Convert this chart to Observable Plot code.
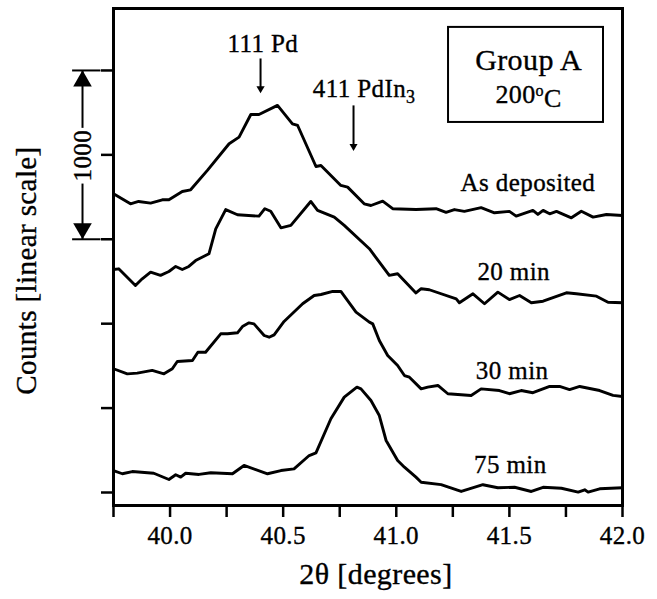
<!DOCTYPE html>
<html>
<head>
<meta charset="utf-8">
<script src="https://cdn.jsdelivr.net/npm/d3@7"></script>
<script src="https://cdn.jsdelivr.net/npm/@observablehq/plot@0.6"></script>
<style>
html, body { margin: 0; padding: 0; background: #fff; }
#chart svg text { letter-spacing: 0.4px; stroke: #000; stroke-width: 0.35px; }
</style>
</head>
<body>
<div id="chart"></div>
<script>
// ---- data (2θ in degrees, counts on linear scale incl. stacking offset) ----
const seriesNames = ["As deposited", "20 min", "30 min", "75 min"];

const asDeposited = [
  [39.75,1770],[39.825,1710],[39.861,1724],[39.914,1714],[39.966,1734],[39.995,1734],
  [40.054,1783],[40.091,1793],[40.165,1908],[40.261,2066],[40.305,2105],[40.357,2239],
  [40.393,2239],[40.475,2293],[40.541,2184],[40.564,2174],[40.645,1931],[40.667,1937],
  [40.755,1819],[40.785,1809],[40.858,1710],[40.888,1700],[40.94,1726],[40.984,1681],
  [41.087,1676],[41.176,1681],[41.22,1660],[41.257,1676],[41.301,1665],[41.375,1687],
  [41.434,1657],[41.5,1665],[41.53,1637],[41.604,1671],[41.626,1647],[41.649,1671],
  [41.678,1651],[41.708,1665],[41.774,1627],[41.818,1666],[41.87,1631],[41.929,1647],
  [42.0,1641]
];

const twentyMin = [
  [39.75,1321],[39.773,1325],[39.847,1226],[39.877,1266],[39.914,1305],[39.958,1286],
  [39.995,1309],[40.025,1339],[40.054,1321],[40.083,1339],[40.113,1374],[40.172,1414],
  [40.202,1562],[40.246,1676],[40.298,1645],[40.393,1637],[40.419,1681],[40.445,1666],
  [40.49,1568],[40.534,1582],[40.622,1724],[40.652,1671],[40.726,1631],[40.77,1582],
  [40.881,1444],[40.969,1286],[41.006,1296],[41.087,1182],[41.11,1207],[41.146,1201],
  [41.265,1147],[41.279,1124],[41.339,1177],[41.39,1118],[41.449,1187],[41.5,1143],
  [41.545,1167],[41.597,1124],[41.649,1133],[41.752,1183],[41.796,1177],[41.885,1163],
  [41.936,1127],[42.0,1124]
];

const thirtyMin = [
  [39.75,733],[39.811,703],[39.855,707],[39.921,723],[39.973,703],[40.01,733],
  [40.032,776],[40.099,782],[40.123,831],[40.157,831],[40.224,940],[40.254,940],
  [40.298,946],[40.32,983],[40.349,1005],[40.371,999],[40.416,930],[40.438,920],
  [40.46,934],[40.504,1013],[40.586,1118],[40.637,1167],[40.667,1173],[40.719,1191],
  [40.755,1191],[40.822,1068],[40.881,1009],[40.896,999],[40.925,900],[40.962,812],
  [41.006,752],[41.036,693],[41.058,683],[41.11,614],[41.139,624],[41.184,634],
  [41.228,585],[41.331,575],[41.375,614],[41.456,604],[41.5,585],[41.552,604],
  [41.604,591],[41.678,628],[41.722,628],[41.766,610],[41.811,628],[41.899,604],
  [41.958,575],[42.0,569]
];

const seventyFiveMin = [
  [39.75,130],[39.789,111],[39.833,124],[39.928,114],[39.995,77],[40.025,105],
  [40.047,91],[40.069,114],[40.128,107],[40.18,117],[40.276,111],[40.327,160],
  [40.431,111],[40.49,130],[40.548,140],[40.615,219],[40.645,235],[40.711,437],
  [40.77,565],[40.826,624],[40.844,614],[40.888,545],[40.925,456],[40.955,308],
  [41.006,190],[41.036,150],[41.087,91],[41.11,61],[41.198,47],[41.287,6],
  [41.383,46],[41.449,28],[41.523,31],[41.597,6],[41.649,31],[41.73,25],
  [41.804,2],[41.833,16],[41.848,2],[41.899,22],[42.0,28]
];

const xTicks = [39.75, 40.0, 40.25, 40.5, 40.75, 41.0, 41.25, 41.5, 41.75, 42.0];
const xTickLabels = ["", "40.0", "", "40.5", "", "41.0", "", "41.5", "", "42.0"];
const yTicks = [0, 500, 1000, 1500, 2000, 2500];
const peakNames = ["111 Pd", "411 PdIn3"];
const peakAngles = [40.40, 40.811];
const boxLines = ["Group A", "200°C"];
const scaleBarLabel = ["1000"];
const xTitle = ["2θ [degrees]"];
const yTitle = ["Counts [linear scale]"];

// ---- build table ----
const rows = [asDeposited, twentyMin, thirtyMin, seventyFiveMin].flatMap((pts, i) =>
  pts.map(([x, y]) => ({series: seriesNames[i], x, y})));

// ---- layout (annotation placement in data units) ----
const labelX = [41.582, 41.519, 41.512, 41.504];
const labelY = [1783, 1256, 675, 113];
const serif = "'Liberation Serif', 'Times New Roman', Times, serif";

const chart = Plot.plot({
  width: 657,
  height: 599,
  marginLeft: 113,
  marginRight: 35,
  marginTop: 8,
  marginBottom: 94,
  style: {fontFamily: serif, fontSize: "25px", background: "#fff", color: "#000"},
  x: {domain: [39.75, 42.0]},
  y: {domain: [-77, 2867]},
  marks: [
    Plot.line(rows, {x: "x", y: "y", z: "series", stroke: "#000", strokeWidth: 2.9,
      strokeLinejoin: "round", strokeLinecap: "round"}),
    Plot.axisX({ticks: xTicks, tickFormat: d => xTickLabels[xTicks.indexOf(d)], tickSize: 12,
      tickPadding: 9, strokeWidth: 2.5, fontSize: 25, label: null}),
    Plot.axisY({ticks: yTicks, tickFormat: () => "", tickSize: 12, strokeWidth: 2.5, label: null}),
    Plot.frame({stroke: "#000", strokeWidth: 3}),
    // curve labels
    Plot.text(seriesNames, {x: (d, i) => labelX[i], y: (d, i) => labelY[i], text: d => d,
      lineAnchor: "bottom", fontSize: 25, fill: "#000"}),
    // peak markers
    Plot.text([peakNames[0]], {x: 40.41, y: 2607, text: d => d, lineAnchor: "bottom", fontSize: 25, fill: "#000"}),
    Plot.text([peakNames[1]], {x: 40.631, y: 2340, text: d => d, textAnchor: "start", lineAnchor: "bottom", fontSize: 25, fill: "#000"}),
    Plot.link(peakAngles, {x1: d => d, x2: d => d, y1: (d, i) => [2571, 2293][i], y2: (d, i) => [2393, 2051][i],
      stroke: "#000", strokeWidth: 2}),
    Plot.dot(peakAngles, {x: d => d, y: (d, i) => [2393, 2051][i], r: (d, i) => [7.7, 7.3][i],
      symbol: "triangle", rotate: 180, fill: "#000", stroke: null}),
    // group box
    Plot.rect([0], {x1: 41.231, x2: 41.916, y1: 2192, y2: 2755, fill: "none", stroke: "#000", strokeWidth: 2}),
    Plot.text([boxLines[0]], {x: 41.585, y: 2500, text: d => d, lineAnchor: "bottom", fontSize: 30, fill: "#000"}),
    Plot.text([boxLines[1]], {x: 41.585, y: 2310, text: d => d, lineAnchor: "bottom", fontSize: 26, fill: "#000"}),
    // scale bar (1000 counts)
    Plot.link([2500, 1500], {x1: 39.567, x2: 39.6925, y1: d => d, y2: d => d, stroke: "#000", strokeWidth: 2}),
    Plot.link([[2500, 2160], [1830, 1500]], {x1: 39.613, x2: 39.613, y1: d => d[0], y2: d => d[1], stroke: "#000", strokeWidth: 2}),
    Plot.dot([2437], {x: 39.613, y: d => d, r: 6.9, symbol: "triangle", rotate: 0, fill: "#000", stroke: null}),
    Plot.dot([1563], {x: 39.613, y: d => d, r: 6.9, symbol: "triangle", rotate: 180, fill: "#000", stroke: null}),
    Plot.text(scaleBarLabel, {x: 39.613, y: 1995, text: d => d, rotate: -90, textAnchor: "middle", fontSize: 25, fill: "#000"}),
    // axis titles
    Plot.text(xTitle, {x: 40.91, frameAnchor: "bottom", dy: 78, text: d => d, textAnchor: "middle", lineAnchor: "bottom", fontSize: 30, fill: "#000"}),
    Plot.text(yTitle, {y: 1315, frameAnchor: "left", dx: -87, text: d => d, rotate: -90, textAnchor: "middle", lineAnchor: "middle", fontSize: 29, fill: "#000"})
  ]
});

// sub/superscripts
d3.select(chart).selectAll("text").each(function () {
  const t = this.textContent;
  const sel = d3.select(this);
  if (t === "411 PdIn3") {
    sel.text("411 PdIn");
    sel.append("tspan").attr("dy", "0.28em").attr("font-size", "0.72em").text("3");
  } else if (t === "200°C") {
    sel.text("200");
    sel.append("tspan").attr("dy", "-0.42em").attr("font-size", "0.62em").text("o");
    sel.append("tspan").attr("dy", "0.42em").text("C");
  }
});

document.getElementById("chart").appendChild(chart);
</script>
</body>
</html>
